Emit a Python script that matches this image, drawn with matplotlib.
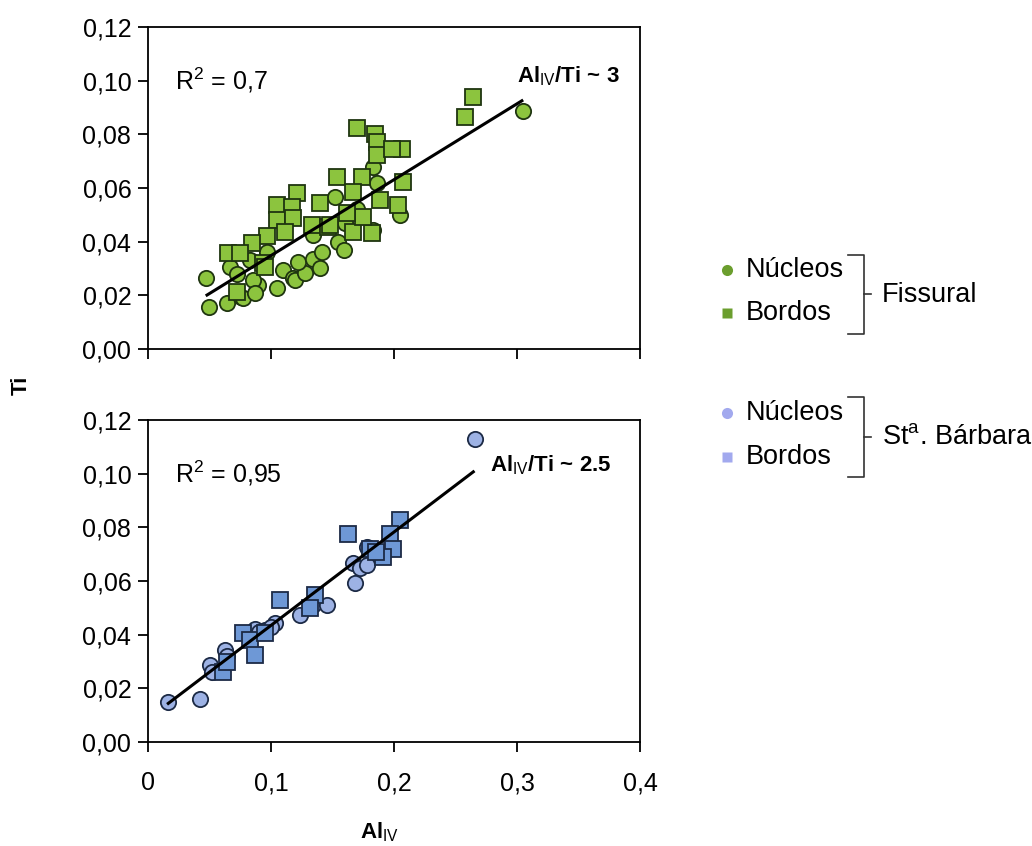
import numpy as np
import matplotlib
matplotlib.use('Agg')
import matplotlib.pyplot as plt
from matplotlib.lines import Line2D

plt.rcParams['font.family'] = ['Liberation Sans', 'DejaVu Sans']
plt.rcParams['mathtext.fontset'] = 'custom'
plt.rcParams['mathtext.rm'] = 'Liberation Sans'
plt.rcParams['mathtext.it'] = 'Liberation Sans:italic'
plt.rcParams['mathtext.bf'] = 'Liberation Sans:bold'

# --- Fissural (top) ---
fis_nuc_x = [0.305, 0.047, 0.050, 0.064, 0.067, 0.076, 0.0775, 0.0897, 0.0856, 0.087,
             0.1046, 0.110, 0.118, 0.1195, 0.1276, 0.122, 0.134, 0.1412, 0.140, 0.1344,
             0.1547, 0.159, 0.152, 0.183, 0.186, 0.205, 0.183, 0.083, 0.0965, 0.072,
             0.160, 0.170]
fis_nuc_y = [0.0887, 0.0266, 0.0158, 0.0170, 0.0307, 0.0193, 0.0189, 0.0238, 0.0257, 0.0207,
             0.0226, 0.0294, 0.0263, 0.0257, 0.0282, 0.0325, 0.0337, 0.0362, 0.0303, 0.0425,
             0.0400, 0.0369, 0.0567, 0.0679, 0.0617, 0.0499, 0.0443, 0.0330, 0.0360, 0.0280,
             0.0470, 0.0520]
fis_bor_x = [0.2645, 0.2577, 0.1697, 0.1846, 0.186, 0.186, 0.2062, 0.198, 0.2076, 0.1534,
             0.1737, 0.167, 0.1886, 0.2035, 0.1209, 0.1398, 0.1046, 0.1168, 0.1046, 0.118,
             0.133, 0.1114, 0.0965, 0.0843, 0.0653, 0.0748, 0.0721, 0.0938, 0.1466, 0.167,
             0.182, 0.175, 0.1615, 0.148, 0.095]
fis_bor_y = [0.0940, 0.0863, 0.0822, 0.0803, 0.0772, 0.0722, 0.0747, 0.0747, 0.0623, 0.0642,
             0.0642, 0.0586, 0.0555, 0.0536, 0.0580, 0.0543, 0.0536, 0.0530, 0.0480, 0.0487,
             0.0462, 0.0437, 0.0421, 0.0394, 0.0356, 0.0356, 0.0213, 0.0319, 0.0455, 0.0437,
             0.0431, 0.0493, 0.0505, 0.0462, 0.0307]
fis_fit_x = [0.048, 0.304]
fis_fit_y = [0.0201, 0.0925]

# --- St. Barbara (bottom) ---
sb_nuc_x = [0.2659, 0.0165, 0.0423, 0.0504, 0.0518, 0.0626, 0.064, 0.087, 0.0951, 0.1033,
            0.1236, 0.1344, 0.1453, 0.1683, 0.167, 0.1724, 0.178, 0.178, 0.090, 0.100]
sb_nuc_y = [0.1131, 0.0150, 0.0159, 0.0287, 0.0262, 0.0343, 0.0320, 0.0423, 0.0417, 0.0442,
            0.0473, 0.0510, 0.0510, 0.0591, 0.0666, 0.0647, 0.0660, 0.0728, 0.0410, 0.0430]
sb_bor_x = [0.1629, 0.2049, 0.1967, 0.1995, 0.1805, 0.1913, 0.1073, 0.1358, 0.1317, 0.0775,
            0.0829, 0.087, 0.0951, 0.0612, 0.064, 0.185]
sb_bor_y = [0.0777, 0.0827, 0.0777, 0.0721, 0.0721, 0.0690, 0.0529, 0.0547, 0.0498, 0.0405,
            0.0380, 0.0324, 0.0405, 0.0262, 0.0299, 0.0710]
sb_fit_x = [0.0165, 0.2645]
sb_fit_y = [0.0144, 0.1007]

yticks = [0.00, 0.02, 0.04, 0.06, 0.08, 0.10, 0.12]
ytick_labels = ['0,00', '0,02', '0,04', '0,06', '0,08', '0,10', '0,12']
xticks = [0, 0.1, 0.2, 0.3, 0.4]
xtick_labels = ['0', '0,1', '0,2', '0,3', '0,4']

green = '#8cc43e'
green_edge = '#1f3510'
blue_sq = '#6e98d6'
blue_ci = '#9db2e4'
blue_edge = '#1c2a45'

fig = plt.figure(figsize=(10.32, 8.46), dpi=100)
ax1 = fig.add_axes([0.1434, 0.5875, 0.4767, 0.3806])
ax2 = fig.add_axes([0.1434, 0.1229, 0.4767, 0.3806])


def style_axes(ax, show_xlabels):
    ax.set_xlim(0, 0.4)
    ax.set_ylim(0, 0.12)
    ax.set_yticks(yticks)
    ax.set_yticklabels(ytick_labels)
    ax.set_xticks(xticks)
    ax.set_xticklabels(xtick_labels if show_xlabels else [])
    ax.tick_params(direction='out', length=7, width=1.3, labelsize=18, pad=5)
    ax.tick_params(axis='x', pad=14)
    for sp in ax.spines.values():
        sp.set_linewidth(1.3)


ax1.plot(fis_nuc_x, fis_nuc_y, 'o', ms=11, mfc=green, mec=green_edge, mew=1.3, ls='none')
ax1.plot(fis_bor_x, fis_bor_y, 's', ms=12, mfc=green, mec=green_edge, mew=1.3, ls='none')
ax1.plot(fis_fit_x, fis_fit_y, color='black', lw=2.2)
style_axes(ax1, False)
ax1.text(0.022, 0.10, r'R$^2$ = 0,7', fontsize=18, va='center')
ax1.text(0.300, 0.1015, r'$\mathbf{Al}_{\mathrm{IV}}$/Ti ~ 3', fontsize=16,
         fontweight='bold', va='center')

ax2.plot(sb_nuc_x, sb_nuc_y, 'o', ms=11, mfc=blue_ci, mec=blue_edge, mew=1.3, ls='none')
ax2.plot(sb_bor_x, sb_bor_y, 's', ms=12, mfc=blue_sq, mec=blue_edge, mew=1.3, ls='none')
ax2.plot(sb_fit_x, sb_fit_y, color='black', lw=2.2)
style_axes(ax2, True)
ax2.text(0.022, 0.1, r'R$^2$ = 0,95', fontsize=18, va='center')
ax2.text(0.278, 0.1033, r'$\mathbf{Al}_{\mathrm{IV}}$/Ti ~ 2.5', fontsize=16,
         fontweight='bold', va='center')

fig.text(0.021, 0.545, 'Ti', rotation=90, fontsize=16, fontweight='bold',
         ha='center', va='center')
fig.text(0.368, 0.016, r'$\mathbf{Al}_{\mathrm{IV}}$', fontsize=16, ha='center', va='center')

# legend with brackets, drawn in figure pixel space
W, H = 1032.0, 846.0


def fx(px):
    return px / W


def fy(py):
    return 1 - py / H


def legend_group(y_top, y_bot, mcolor, group_name, bracket_top, bracket_bot):
    for yy, mk, lab in [(y_top, 'o', 'Núcleos'), (y_bot, 's', 'Bordos')]:
        fig.add_artist(Line2D([fx(727)], [fy(yy)], marker=mk, ms=8 if mk == 'o' else 7.5,
                              mfc=mcolor, mec='none', ls='none'))
        fig.text(fx(746), fy(yy), lab, fontsize=19.5, va='center')
    xb = fx(864)
    fig.add_artist(Line2D([fx(848), xb, xb, fx(848)],
                          [fy(bracket_top), fy(bracket_top), fy(bracket_bot), fy(bracket_bot)],
                          color='#333333', lw=1.2))
    ym = (bracket_top + bracket_bot) / 2
    fig.add_artist(Line2D([xb, fx(871)], [fy(ym), fy(ym)], color='#333333', lw=1.2))
    fig.text(fx(882), fy(ym), group_name, fontsize=19.5, va='center')


legend_group(270, 313, '#6b9e2e', 'Fissural', 255, 334)
legend_group(413, 457, '#a2a9ee', r'St$^{\mathrm{a}}$. Bárbara', 397, 477)

fig.savefig('out.png', dpi=100)
